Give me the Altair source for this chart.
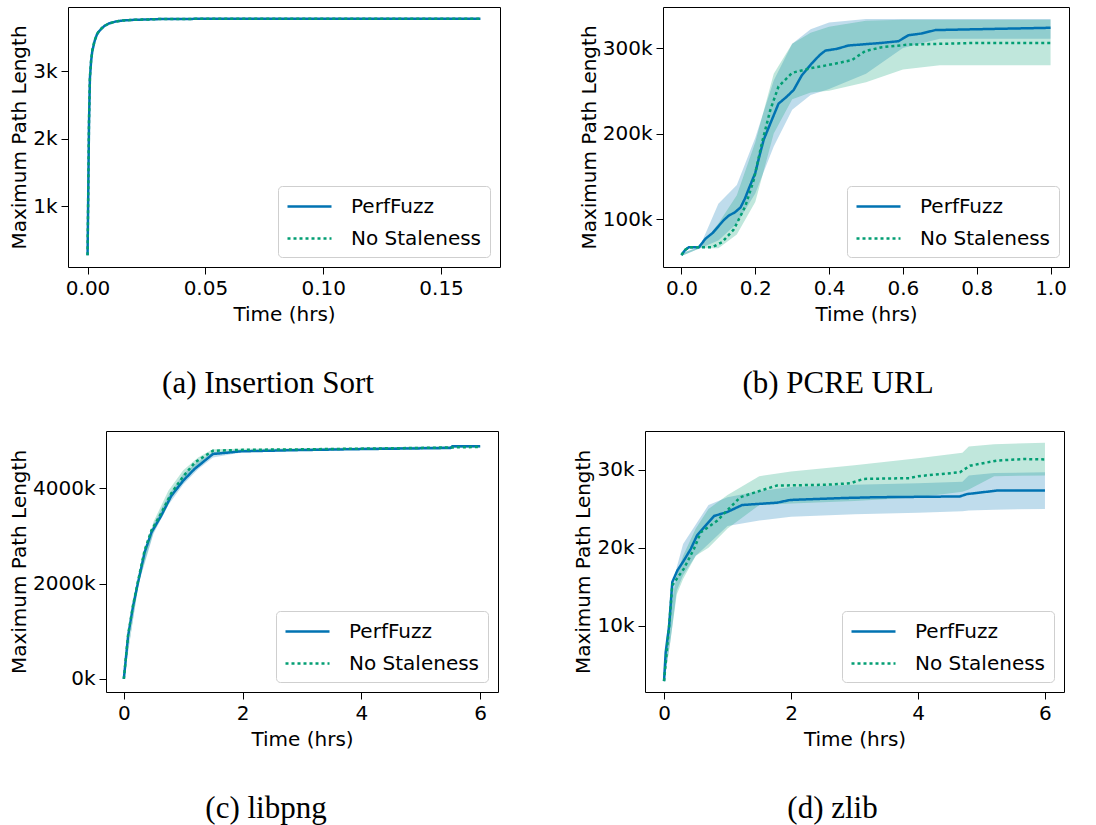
import altair as alt
import pandas as pd

SERIES = ["PerfFuzz", "No Staleness"]
COLORS = ["#0173b2", "#029e73"]
DASHES = [[1, 0], [3, 3]]

# ---------------- (a) Insertion Sort  (values in k) ----------------
a_t_pf = [0, 0.0003, 0.0006, 0.001, 0.0015, 0.002, 0.003, 0.004, 0.005, 0.007, 0.009, 0.012, 0.015, 0.02, 0.03, 0.05, 0.08, 0.12, 0.1667]
a_pf = [0.27, 1.2, 2.2, 2.9, 3.15, 3.3, 3.45, 3.55, 3.6, 3.67, 3.71, 3.74, 3.755, 3.765, 3.775, 3.78, 3.78, 3.78, 3.78]
a_t_ns = [0, 0.0003, 0.0006, 0.001, 0.0015, 0.002, 0.003, 0.004, 0.005, 0.007, 0.009, 0.012, 0.015, 0.02, 0.03, 0.05, 0.08, 0.12, 0.1667]
a_ns = [0.27, 1.25, 2.25, 2.92, 3.16, 3.31, 3.46, 3.55, 3.61, 3.67, 3.71, 3.74, 3.755, 3.765, 3.775, 3.78, 3.78, 3.78, 3.78]

# ---------------- (b) PCRE URL ----------------
b_t_pf = [0, 0.01, 0.02, 0.047, 0.065, 0.085, 0.101, 0.115, 0.128, 0.145, 0.16, 0.172, 0.182, 0.2, 0.212, 0.223, 0.241, 0.263, 0.285, 0.304, 0.326, 0.353, 0.375, 0.39, 0.42, 0.453, 0.542, 0.588, 0.615, 0.65, 0.688, 0.8, 1.0]
b_pf = [58, 64, 67, 67, 77, 84, 92, 99, 104, 108, 113.6, 124, 135, 154, 175, 193, 212, 235, 243, 251, 268, 282, 292, 297, 299, 303, 306, 308, 315, 317, 321, 322, 323.7]
b_t_ns = [0, 0.01, 0.02, 0.083, 0.11, 0.142, 0.173, 0.196, 0.218, 0.241, 0.263, 0.3, 0.345, 0.408, 0.462, 0.498, 0.543, 0.615, 0.8, 1.0]
b_ns = [58, 64, 67, 67, 73, 88, 115, 146, 189, 228, 255, 271, 276, 281, 286, 296.5, 301, 304, 306, 306]
b_band_t = [0, 0.05, 0.1, 0.15, 0.2, 0.25, 0.3, 0.35, 0.4, 0.5, 0.6, 0.7, 1.0]
b_pf_hi = [60, 68, 118, 140, 195, 262, 305, 322, 330, 334, 334, 334, 334]
b_pf_lo = [57, 66, 75, 95, 130, 185, 228, 245, 252, 270, 300, 311, 311]
b_ns_hi = [60, 67, 95, 128, 190, 270, 305, 318, 325, 332, 333, 333, 333]
b_ns_lo = [57, 66, 66, 82, 120, 200, 240, 248, 250, 260, 275, 280, 280]

# ---------------- (c) libpng ----------------
c_t_pf = [0, 0.073, 0.157, 0.24, 0.35, 0.465, 0.63, 0.8, 1.0, 1.19, 1.5, 1.97, 2.98, 4.1, 5.5, 5.53, 6.0]
c_pf = [0, 909, 1538, 2029, 2659, 3079, 3427, 3847, 4162, 4407, 4722, 4778, 4805, 4827, 4848, 4883, 4883]
c_t_ns = [0, 0.073, 0.157, 0.24, 0.35, 0.465, 0.63, 0.8, 1.0, 1.2, 1.5, 2.0, 3.0, 4.0, 5.0, 6.0]
c_ns = [0, 930, 1560, 2060, 2700, 3120, 3480, 3900, 4250, 4550, 4790, 4810, 4820, 4835, 4850, 4870]
c_band_t = [0, 0.25, 0.5, 0.75, 1.0, 1.25, 1.5, 2.0, 6.0]
c_pf_lo = [0, 2000, 3050, 3650, 4080, 4400, 4650, 4760, 4870]
c_pf_hi = [0, 2150, 3250, 3850, 4300, 4560, 4760, 4800, 4900]
c_ns_lo = [0, 2030, 3080, 3700, 4150, 4480, 4740, 4790, 4855]
c_ns_hi = [0, 2200, 3300, 3950, 4380, 4650, 4820, 4830, 4890]

# ---------------- (d) zlib ----------------
d_t_pf = [0, 0.026, 0.08, 0.13, 0.21, 0.31, 0.42, 0.52, 0.68, 0.79, 0.995, 1.23, 1.78, 1.99, 2.83, 3.35, 4.66, 4.77, 5.24, 6.0]
d_pf = [2.9, 6.6, 10, 15.6, 17.1, 18.35, 19.85, 21.6, 23.1, 24.1, 24.6, 25.5, 25.8, 26.15, 26.4, 26.5, 26.6, 26.9, 27.35, 27.35]
d_t_ns = [0, 0.08, 0.13, 0.31, 0.47, 0.58, 0.84, 0.97, 1.2, 1.52, 1.78, 2.55, 2.94, 3.14, 3.87, 4.0, 4.66, 4.82, 5.24, 5.66, 6.0]
d_ns = [2.9, 10, 15.2, 17.3, 19.85, 22, 23.5, 24.6, 26.5, 27.35, 28, 28.1, 28.3, 28.85, 28.95, 29.2, 29.7, 30.55, 31.2, 31.4, 31.35]
d_band_t = [0, 0.1, 0.2, 0.3, 0.5, 0.7, 1.0, 1.5, 2.0, 3.0, 4.0, 4.7, 4.8, 5.2, 6.0]
d_pf_hi = [3.2, 13, 17.5, 20.5, 23, 25.5, 26.5, 27.3, 27.8, 28.1, 28.3, 28.5, 29.3, 29.6, 29.7]
d_pf_lo = [2.7, 8, 14.5, 16.5, 19, 20.5, 22.8, 23.5, 24, 24.3, 24.5, 24.7, 24.8, 24.9, 25.0]
d_ns_hi = [3.2, 12, 16.5, 19, 22.5, 25, 26.8, 29.2, 29.8, 30.6, 31.5, 32.2, 33.0, 33.3, 33.5]
d_ns_lo = [2.7, 8, 14, 16, 19, 20, 22.5, 25.5, 25.7, 26, 26.5, 27.2, 27.5, 29.2, 29.3]


def lines_frame(t1, v1, t2, v2):
    return pd.DataFrame({
        "t": list(t1) + list(t2),
        "v": list(v1) + list(v2),
        "series": [SERIES[0]] * len(t1) + [SERIES[1]] * len(t2),
    })


def band_frame(t, lo, hi):
    return pd.DataFrame({"t": list(t), "lo": list(lo), "hi": list(hi)})


def legend():
    return alt.Legend(
        title=None, orient="bottom-right", offset=10,
        symbolType="M-2,0L2,0", symbolSize=484, symbolStrokeWidth=2.5,
        symbolOffset=11, labelOffset=29, rowPadding=9, padding=8,
    )


def panel(ldf, bands, xdom, ydom, xvals, xfmt, yvals, w, h, caption, dx):
    xs = alt.Scale(domain=xdom, nice=False, zero=False)
    ys = alt.Scale(domain=ydom, nice=False, zero=False)
    xax = alt.Axis(values=xvals, format=xfmt, title="Time (hrs)")
    yax = alt.Axis(values=yvals, labelExpr="datum.value + 'k'", title="Maximum Path Length")
    layers = []
    for i, bdf in enumerate(bands):
        layers.append(
            alt.Chart(bdf).mark_area(color=COLORS[i], opacity=0.25).encode(
                x=alt.X("t:Q", scale=xs, axis=xax),
                y=alt.Y("lo:Q", scale=ys, axis=yax),
                y2="hi:Q",
            )
        )
    layers.append(
        alt.Chart(ldf).mark_line(strokeWidth=2.5).encode(
            x=alt.X("t:Q", scale=xs, axis=xax),
            y=alt.Y("v:Q", scale=ys, axis=yax),
            color=alt.Color("series:N", scale=alt.Scale(domain=SERIES, range=COLORS), legend=legend()),
            strokeDash=alt.StrokeDash("series:N", scale=alt.Scale(domain=SERIES, range=DASHES), legend=legend()),
        )
    )
    return alt.layer(*layers).properties(
        width=w, height=h,
        title=alt.TitleParams(
            text=caption, orient="bottom", anchor="middle", frame="group", dx=dx,
            offset=45, font="Liberation Serif", fontSize=31, fontWeight="normal",
            color="black", baseline="top",
        ),
    )


def spacer():
    # invisible 1px anchor so that each row's left edge is its y-axis title
    return alt.Chart(pd.DataFrame({"s": [0]})).mark_point(size=0, opacity=0).properties(
        width=1, height=1, view=alt.ViewBackground(stroke="transparent")
    )


pa = panel(lines_frame(a_t_pf, a_pf, a_t_ns, a_ns), [],
           [-0.0083, 0.175], [0.095, 3.955], [0, 0.05, 0.10, 0.15], ".2f", [1, 2, 3],
           432, 260, "(a) Insertion Sort", -16)
pb = panel(lines_frame(b_t_pf, b_pf, b_t_ns, b_ns),
           [band_frame(b_band_t, b_pf_lo, b_pf_hi), band_frame(b_band_t, b_ns_lo, b_ns_hi)],
           [-0.05, 1.05], [44, 348], [0, 0.2, 0.4, 0.6, 0.8, 1.0], ".1f", [100, 200, 300],
           406, 260, "(b) PCRE URL", -28)
pc = panel(lines_frame(c_t_pf, c_pf, c_t_ns, c_ns),
           [band_frame(c_band_t, c_pf_lo, c_pf_hi), band_frame(c_band_t, c_ns_lo, c_ns_hi)],
           [-0.3, 6.3], [-273, 5205], [0, 2, 4, 6], "d", [0, 2000, 4000],
           392, 261, "(c) libpng", -36)
pd_ = panel(lines_frame(d_t_pf, d_pf, d_t_ns, d_ns),
            [band_frame(d_band_t, d_pf_lo, d_pf_hi), band_frame(d_band_t, d_ns_lo, d_ns_hi)],
            [-0.3, 6.3], [1.5, 35.0], [0, 2, 4, 6], "d", [10, 20, 30],
            419, 261, "(d) zlib", -22)

RES = dict(color="independent", strokeDash="independent", x="independent", y="independent")
LEG = dict(color="independent", strokeDash="independent")


def row(left, right, gap):
    inner = alt.hconcat(spacer(), left, spacing=0).resolve_scale(**RES).resolve_legend(**LEG)
    return alt.hconcat(inner, right, spacing=gap).resolve_scale(**RES).resolve_legend(**LEG)


chart = (
    alt.vconcat(row(pa, pb, 77), row(pc, pd_, 74), spacing=30)
    .resolve_scale(**RES)
    .resolve_legend(**LEG)
    .properties(padding={"left": 6, "top": 6, "right": 0, "bottom": 0}, background="white")
    .configure_view(stroke="black", strokeWidth=1)
    .configure_axis(
        grid=False, domain=False, tickColor="black", tickSize=7, tickWidth=1,
        labelFont="DejaVu Sans", labelFontSize=20, labelColor="black", labelPadding=4,
        titleFont="DejaVu Sans", titleFontSize=20, titleFontWeight="normal", titleColor="black",
        labelFlush=False, labelOverlap=False,
    )
    .configure_axisX(titlePadding=6)
    .configure_axisY(titlePadding=3)
    .configure_legend(
        fillColor="white", strokeColor="#cfcfcf", cornerRadius=4,
        labelFont="DejaVu Sans", labelFontSize=20, labelColor="black",
    )
)

chart.save("out.html", embed_options={"renderer": "svg", "actions": False})
